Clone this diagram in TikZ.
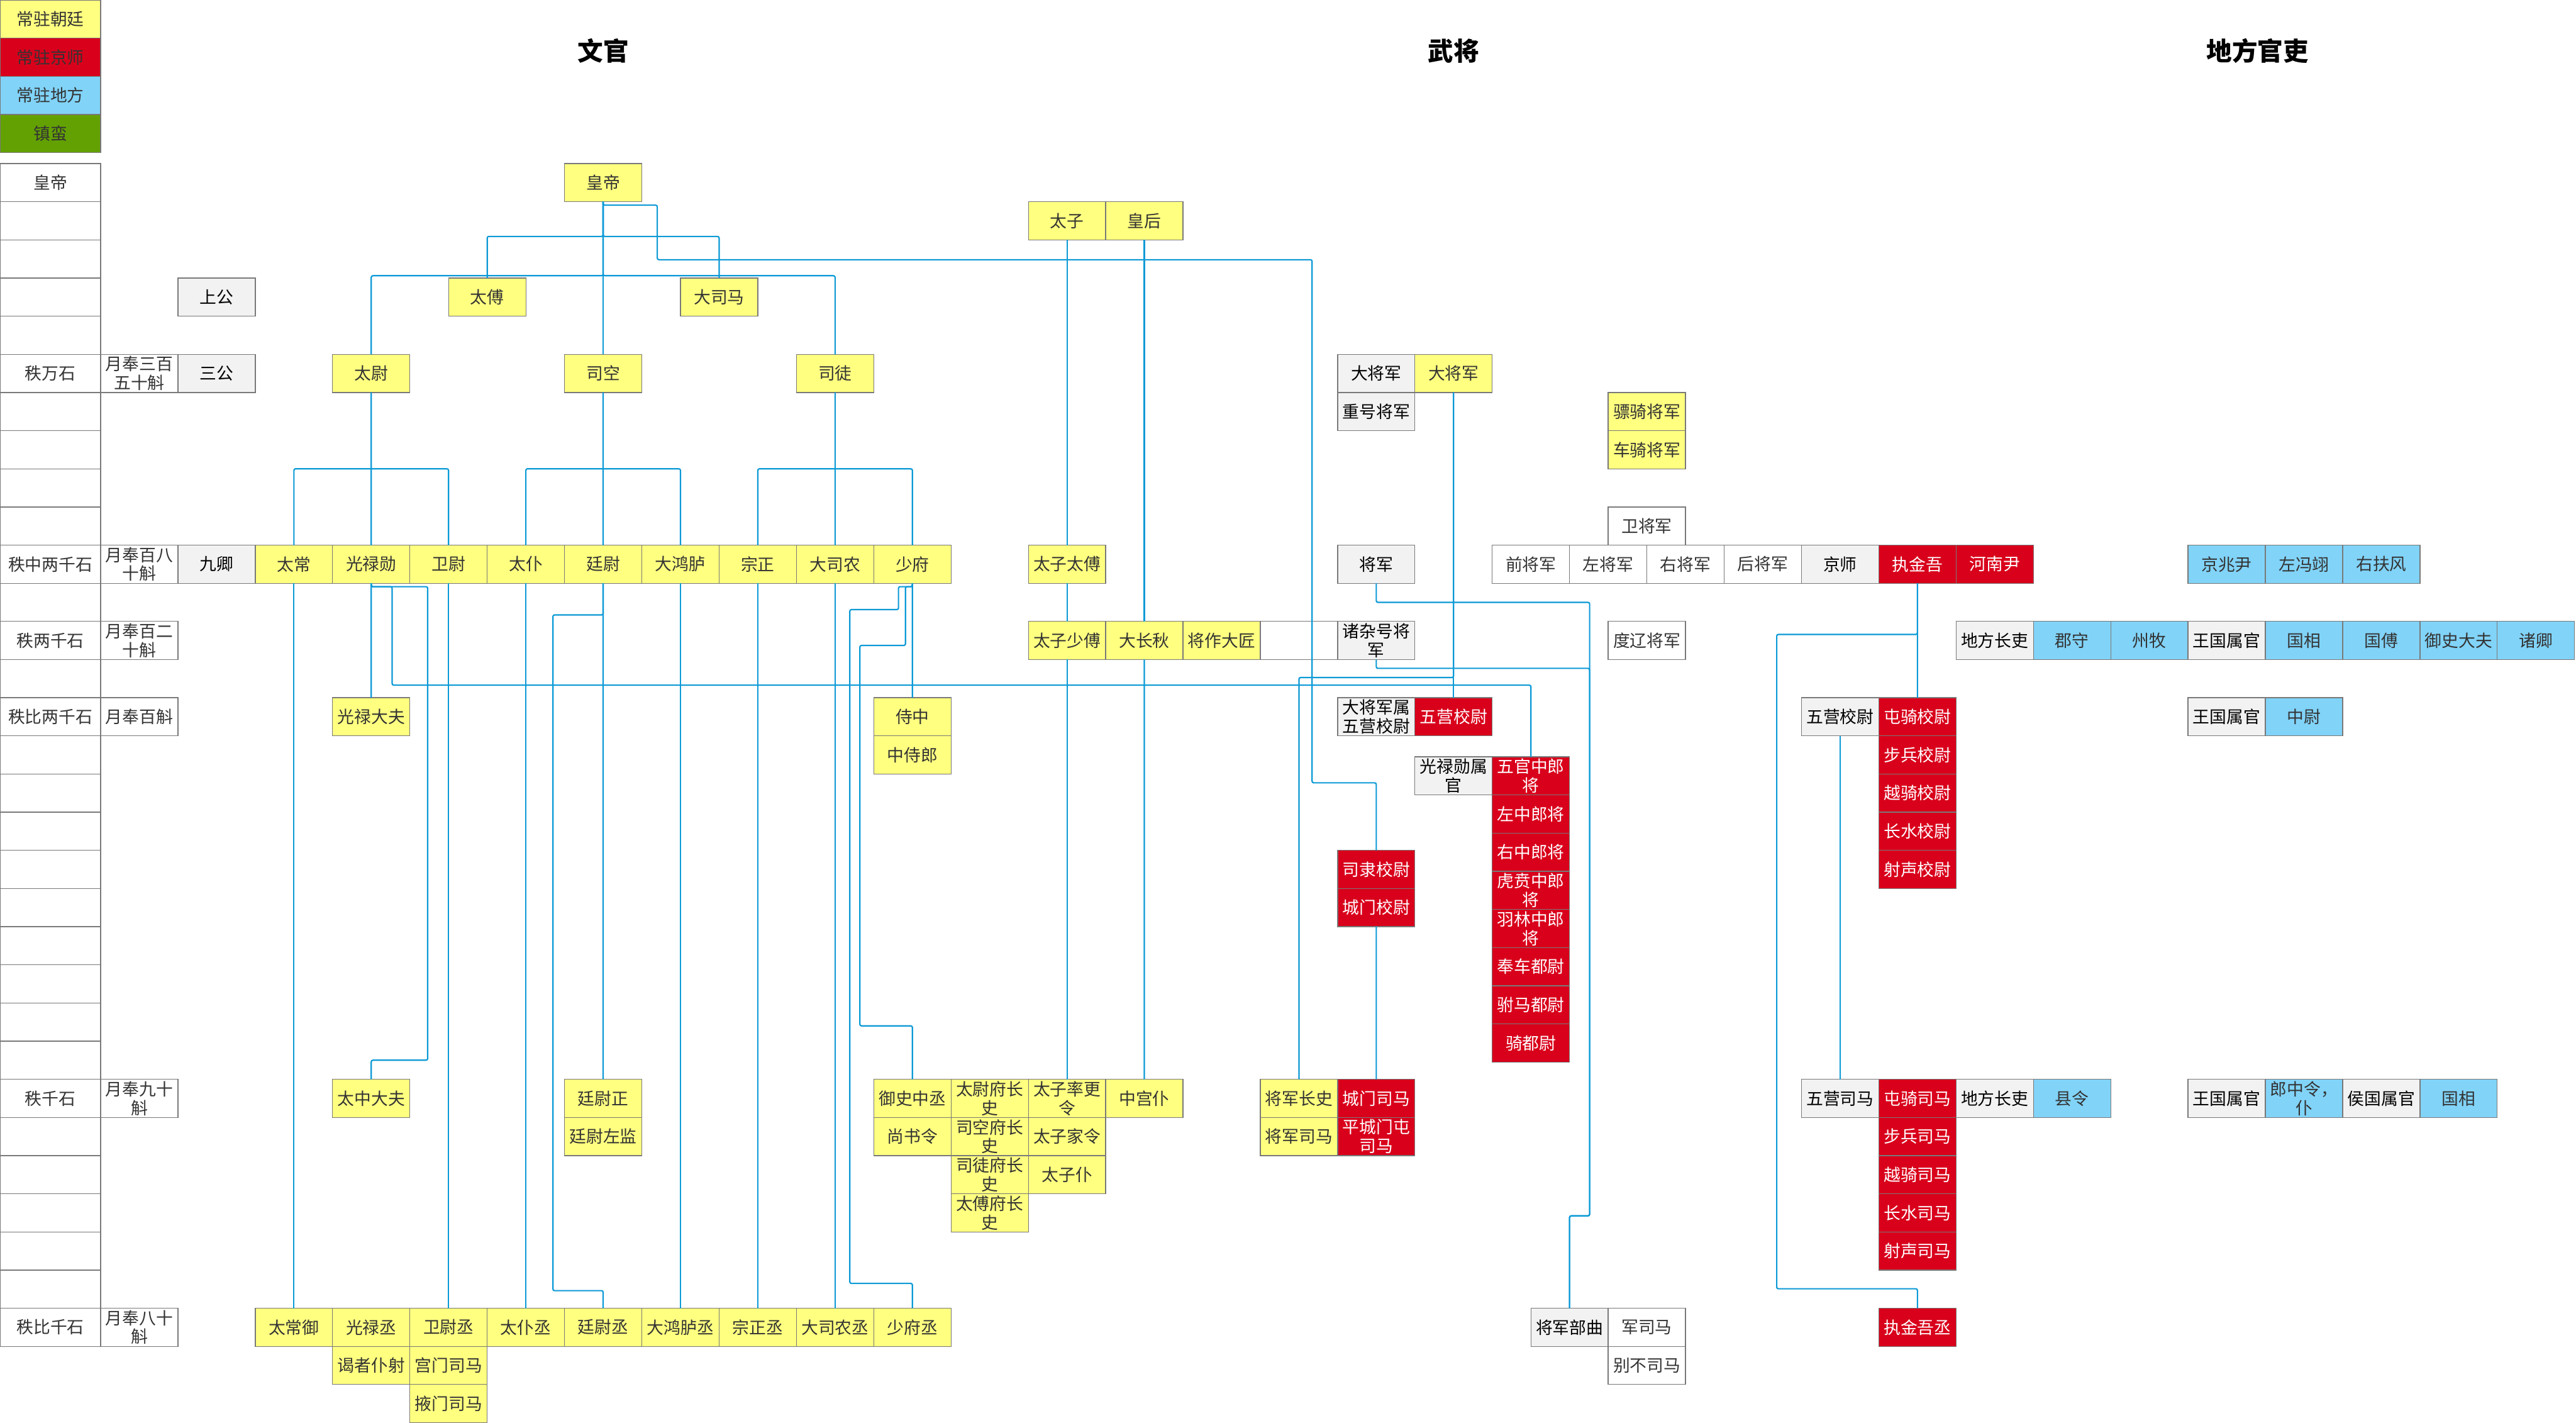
\documentclass[tikz,border=0pt]{standalone}
\usepackage{fontspec}
\setmainfont{Noto Sans CJK SC}
\usepackage{xcolor}
\usepackage{tikz}
\usetikzlibrary{positioning}
\definecolor{courtY}{HTML}{FFFF80}
\definecolor{capitalR}{HTML}{D9001B}
\definecolor{localB}{HTML}{81D3F8}
\definecolor{frontierG}{HTML}{63A103}
\definecolor{labelG}{HTML}{F2F2F2}
\definecolor{edgeG}{HTML}{797979}
\definecolor{inkG}{HTML}{333333}
\definecolor{linkB}{HTML}{0C9AD6}

\begin{document}
\begin{tikzpicture}[
  x=1cm, y=-0.4934cm,
  node distance=0pt,
  every node/.style={inner sep=0pt, outer sep=0pt, align=center, text=inkG, font=\fontsize{6.2}{6.9}\selectfont},
  cell/.style={draw=edgeG, line width=0.3pt, minimum width=1cm, minimum height=0.4934cm},
  rank/.style={cell, fill=white, minimum width=1.302cm},
  court/.style={cell, fill=courtY},
  capital/.style={cell, fill=capitalR, text=white},
  local/.style={cell, fill=localB},
  frontier/.style={cell, fill=frontierG},
  tier/.style={cell, fill=labelG, text=black},
  plain/.style={cell, fill=white},
  heading/.style={font=\fontsize{9.4}{10}\selectfont\bfseries, text=black},
  link/.style={draw=linkB, line width=0.5pt, rounded corners=0.6pt}
]
\useasboundingbox (-0.802,-4.787) rectangle (32.519,32.5);

\node[rank, fill=courtY] (keyCourt) at (-0.151,-4.287) {常驻朝廷};
\node[rank, fill=capitalR, below=of keyCourt] (keyCapital) {常驻京师};
\node[rank, fill=localB, below=of keyCapital] (keyLocal) {常驻地方};
\node[rank, fill=frontierG, below=of keyLocal] (keyFrontier) {镇蛮};

\node[heading] (headCivil) at (7,-3.45) {文官};
\node[heading] (headMilitary) at (18,-3.45) {武将};
\node[heading] (headLocal) at (28.4,-3.45) {地方官吏};

\node[rank] (rankEmperor) at (-0.151,0) {皇帝};
\node[rank] (rankWan) at (-0.151,5) {秩万石};
\node[rank] (rankZhong) at (-0.151,10) {秩中两千石};
\node[rank] (rankTwo) at (-0.151,12) {秩两千石};
\node[rank] (rankBi) at (-0.151,14) {秩比两千石};
\node[rank] (rankQian) at (-0.151,24) {秩千石};
\node[rank] (rankBiQian) at (-0.151,30) {秩比千石};
\foreach \r in {1,2,3,4,6,7,8,9,11,13,15,16,17,18,19,20,21,22,23,25,26,27,28,29}
  \node[rank] (rankBlank\r) at (-0.151,\r) {};

\node[plain] (payWan) at (1,5) {月奉三百\\五十斛};
\node[plain] (payZhong) at (1,10) {月奉百八\\十斛};
\node[plain] (payTwo) at (1,12) {月奉百二\\十斛};
\node[plain] (payBi) at (1,14) {月奉百斛};
\node[plain] (payQian) at (1,24) {月奉九十\\斛};
\node[plain] (payBiQian) at (1,30) {月奉八十\\斛};

\node[tier] (tierShang) at (2,3) {上公};
\node[tier] (tierSan) at (2,5) {三公};
\node[tier] (tierJiu) at (2,10) {九卿};

\node[court] (emperor) at (7,0) {皇帝};
\node[court] (taifu) at (5.5,3) {太傅};
\node[court] (dasima) at (8.5,3) {大司马};
\node[court] (taiwei) at (4,5) {太尉};
\node[court] (sikong) at (7,5) {司空};
\node[court] (situ) at (10,5) {司徒};

\node[court] (taichang) at (3,10) {太常};
\node[court, right=of taichang] (guanglu) {光禄勋};
\node[court, right=of guanglu] (weiwei) {卫尉};
\node[court, right=of weiwei] (taipu) {太仆};
\node[court, right=of taipu] (tingwei) {廷尉};
\node[court, right=of tingwei] (dahonglu) {大鸿胪};
\node[court, right=of dahonglu] (zongzheng) {宗正};
\node[court, right=of zongzheng] (dasinong) {大司农};
\node[court, right=of dasinong] (shaofu) {少府};

\node[court] (gldf) at (4,14) {光禄大夫};
\node[court] (shizhong) at (11,14) {侍中};
\node[court, below=of shizhong] (zhongshilang) {中侍郎};

\node[court] (tzdf) at (4,24) {太中大夫};
\node[court] (twz) at (7,24) {廷尉正};
\node[court, below=of twz] (twzj) {廷尉左监};
\node[court] (yszc) at (11,24) {御史中丞};
\node[court, below=of yszc] (shangshu) {尚书令};
\node[court] (twfzs) at (12,24) {太尉府长\\史};
\node[court, below=of twfzs] (skfzs) {司空府长\\史};
\node[court, below=of skfzs] (stfzs) {司徒府长\\史};
\node[court, below=of stfzs] (tffzs) {太傅府长\\史};
\node[court] (tzslg) at (13,24) {太子率更\\令};
\node[court, below=of tzslg] (tzjl) {太子家令};
\node[court, below=of tzjl] (tzp) {太子仆};
\node[court] (zgp) at (14,24) {中宫仆};

\node[court] (taichangyu) at (3,30) {太常御};
\node[court, right=of taichangyu] (glc) {光禄丞};
\node[court, right=of glc] (wwc) {卫尉丞};
\node[court, right=of wwc] (tpc) {太仆丞};
\node[court, right=of tpc] (twc) {廷尉丞};
\node[court, right=of twc] (dhlc) {大鸿胪丞};
\node[court, right=of dhlc] (zzc) {宗正丞};
\node[court, right=of zzc] (dsnc) {大司农丞};
\node[court, right=of dsnc] (sfc) {少府丞};
\node[court, below=of glc] (yzps) {谒者仆射};
\node[court, below=of wwc] (gmsm) {宫门司马};
\node[court, below=of gmsm] (ymsm) {掖门司马};

\node[court] (taizi) at (13,1) {太子};
\node[court, right=of taizi] (huanghou) {皇后};
\node[court] (tztf) at (13,10) {太子太傅};
\node[court] (tzsf) at (13,12) {太子少傅};
\node[court, right=of tzsf] (dacq) {大长秋};
\node[court, right=of dacq] (jzdj) {将作大匠};
\node[plain, right=of jzdj] (gapCell) {};
\node[tier, right=of gapCell] (zzh) {诸杂号将\\军};

\node[tier] (djjLabel) at (17,5) {大将军};
\node[court, right=of djjLabel] (djj) {大将军};
\node[tier, below=of djjLabel] (zhjj) {重号将军};
\node[court] (piaoqi) at (20.5,6) {骠骑将军};
\node[court, below=of piaoqi] (cheqi) {车骑将军};
\node[plain] (weijj) at (20.5,9) {卫将军};
\node[tier] (jiangjun) at (17,10) {将军};
\node[plain] (qianjj) at (19,10) {前将军};
\node[plain, right=of qianjj] (zuojj) {左将军};
\node[plain, right=of zuojj] (youjj) {右将军};
\node[plain, right=of youjj] (houjj) {后将军};
\node[tier, right=of houjj] (jingshi) {京师};
\node[capital, right=of jingshi] (zhijinwu) {执金吾};
\node[capital, right=of zhijinwu] (henanyin) {河南尹};
\node[plain] (duliao) at (20.5,12) {度辽将军};

\node[tier] (djjs) at (17,14) {大将军属\\五营校尉};
\node[capital, right=of djjs] (wyxw) {五营校尉};
\node[tier] (glxs) at (18,15.55) {光禄勋属\\官};
\node[capital, right=of glxs] (wgzlj) {五官中郎\\将};
\node[capital, below=of wgzlj] (zzlj) {左中郎将};
\node[capital, below=of zzlj] (yzlj) {右中郎将};
\node[capital, below=of yzlj] (hbzlj) {虎贲中郎\\将};
\node[capital, below=of hbzlj] (ylzlj) {羽林中郎\\将};
\node[capital, below=of ylzlj] (fcdw) {奉车都尉};
\node[capital, below=of fcdw] (fmdw) {驸马都尉};
\node[capital, below=of fmdw] (qdw) {骑都尉};
\node[capital] (slxw) at (17,18) {司隶校尉};
\node[capital, below=of slxw] (cmxw) {城门校尉};

\node[court] (jjzs) at (16,24) {将军长史};
\node[capital, right=of jjzs] (cmsm) {城门司马};
\node[court, below=of jjzs] (jjsm) {将军司马};
\node[capital, right=of jjsm] (pcmsm) {平城门屯\\司马};
\node[tier] (jjbq) at (19.5,30) {将军部曲};
\node[plain, right=of jjbq] (jsm) {军司马};
\node[plain, below=of jsm] (bbsm) {别不司马};

\node[local] (jzy) at (28,10) {京兆尹};
\node[local, right=of jzy] (zfy) {左冯翊};
\node[local, right=of zfy] (yff) {右扶风};
\node[tier] (dfzl) at (25,12) {地方长吏};
\node[local, right=of dfzl] (junshou) {郡守};
\node[local, right=of junshou] (zhoumu) {州牧};
\node[tier, right=of zhoumu] (wgsg) {王国属官};
\node[local, right=of wgsg] (guoxiang) {国相};
\node[local, right=of guoxiang] (guofu) {国傅};
\node[local, right=of guofu] (ysdf) {御史大夫};
\node[local, right=of ysdf] (zhuqing) {诸卿};

\node[tier] (wyxwLabel) at (23,14) {五营校尉};
\node[capital, right=of wyxwLabel] (tjxw) {屯骑校尉};
\node[capital, below=of tjxw] (bbxw) {步兵校尉};
\node[capital, below=of bbxw] (yjxw) {越骑校尉};
\node[capital, below=of yjxw] (csxw) {长水校尉};
\node[capital, below=of csxw] (ssxw) {射声校尉};
\node[tier] (wgsgB) at (28,14) {王国属官};
\node[local, right=of wgsgB] (zhongwei) {中尉};

\node[tier] (wysm) at (23,24) {五营司马};
\node[capital, right=of wysm] (tjsm) {屯骑司马};
\node[tier, right=of tjsm] (dfzlB) {地方长吏};
\node[local, right=of dfzlB] (xianling) {县令};
\node[capital, below=of tjsm] (bbsmR) {步兵司马};
\node[capital, below=of bbsmR] (yjsm) {越骑司马};
\node[capital, below=of yjsm] (cssm) {长水司马};
\node[capital, below=of cssm] (sssm) {射声司马};
\node[tier] (wgsgC) at (28,24) {王国属官};
\node[local, right=of wgsgC] (lzl) {郎中令，\\仆};
\node[tier, right=of lzl] (hgsg) {侯国属官};
\node[local, right=of hgsg] (guoxiangB) {国相};
\node[capital] (zjwc) at (24,30) {执金吾丞};

\draw[link] (emperor.south) -- (sikong.north);
\draw[link] (emperor.south) -- (7,1.41) -| (taifu.north);
\draw[link] (emperor.south) -- (7,1.41) -| (dasima.north);
\draw[link] (emperor.south) -- (7,2.44) -| (taiwei.north);
\draw[link] (emperor.south) -- (7,2.44) -| (situ.north);
\draw[link] (emperor.south) -- (7,0.59) -| (7.7,2.02) -| (16.17,15.73) -| (slxw.north);

\draw[link] (taiwei.south) -- (guanglu.north);
\draw[link] (taichang.north) -- (3,7.5) -- (5,7.5) -- (weiwei.north);
\draw[link] (sikong.south) -- (tingwei.north);
\draw[link] (taipu.north) -- (6,7.5) -- (8,7.5) -- (dahonglu.north);
\draw[link] (situ.south) -- (dasinong.north);
\draw[link] (zongzheng.north) -- (9,7.5) -- (11,7.5) -- (shaofu.north);

\draw[link] (taichang.south) -- (taichangyu.north);
\draw[link] (weiwei.south) -- (wwc.north);
\draw[link] (taipu.south) -- (tpc.north);
\draw[link] (dahonglu.south) -- (dhlc.north);
\draw[link] (zongzheng.south) -- (zzc.north);
\draw[link] (dasinong.south) -- (dsnc.north);
\draw[link] (tingwei.south) -- (twz.north);
\draw[link] (tingwei.south) -- (7,11.33) -| (6.35,29.04) -| (twc.north);
\draw[link] (guanglu.south) -- (gldf.north);
\draw[link] (guanglu.south) -- (4,10.59) -| (4.73,23.0) -| (tzdf.north);
\draw[link] (guanglu.south) -- (4,10.59) -| (4.27,13.17) -| (wgzlj.north);
\draw[link] (shaofu.south) -- (shizhong.north);
\draw[link] (shaofu.south) -- (11,10.59) -| (10.91,12.13) -| (10.32,22.1) -| (yszc.north);
\draw[link] (shaofu.south) -- (11,10.59) -| (10.82,11.19) -| (10.19,28.85) -| (sfc.north);

\draw[link] (taizi.south) -- (tztf.north);
\draw[link] (tztf.south) -- (tzsf.north);
\draw[link] (tzsf.south) -- (tzslg.north);
\draw[link] (huanghou.south) -- (dacq.north);
\draw[link] (dacq.south) -- (zgp.north);

\draw[link] (djj.south) -- (wyxw.north);
\draw[link] (djj.south) -- (18,12.97) -| (jjzs.north);
\draw[link] (jiangjun.south) -- (17,11.0) -| (19.76,27.08) -| (jjbq.north);
\draw[link] (zzh.south) -- (17,12.73) -| (19.76,27.08) -| (jjbq.north);
\draw[link] (cmxw.south) -- (cmsm.north);

\draw[link] (zhijinwu.south) -- (tjxw.north);
\draw[link] (zhijinwu.south) -- (24,11.84) -| (22.18,28.99) -| (zjwc.north);
\draw[link] (wyxwLabel.south) -- (wysm.north);
\end{tikzpicture}
\end{document}
